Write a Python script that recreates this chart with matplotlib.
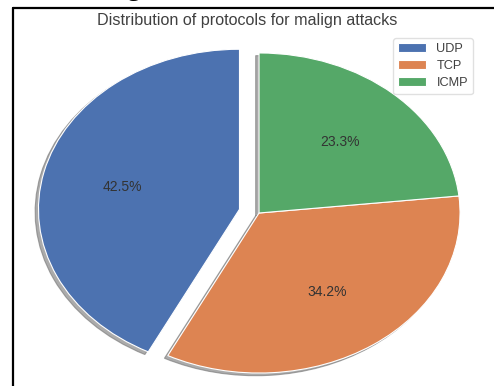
import matplotlib
matplotlib.use('Agg')
import matplotlib.pyplot as plt
from matplotlib.lines import Line2D
import seaborn as sns

protocols = ['UDP', 'TCP', 'ICMP']
shares = [42.5, 34.2, 23.3]
explode = [0.1, 0, 0]

sns.set_theme(style='darkgrid')
plt.rcParams['font.family'] = ['Liberation Sans', 'DejaVu Sans']

colors = sns.color_palette('deep')[:3]

W, H = 494, 386
fig = plt.figure(figsize=(W / 100, H / 100), dpi=100)
fig.patch.set_facecolor('white')

# axes stretched to the pie area, limits chosen so the pie sits where it should
ax = fig.add_axes([14 / W, 0, 475 / W, 378 / H])
wedges, texts, autotexts = ax.pie(
    shares, explode=explode, colors=colors, startangle=90,
    shadow={'ox': -0.012, 'oy': -0.012, 'facecolor': '0.45',
            'edgecolor': '0.45', 'alpha': 0.6},
    autopct='%1.1f%%', pctdistance=0.6,
    wedgeprops={'edgecolor': 'white', 'linewidth': 0.8},
    textprops={'fontsize': 10, 'color': '0.2'})
ax.set_aspect('auto')
ax.set_xlim(-1.219, 1.144)
ax.set_ylim(-1.081, 1.281)

fig.text(247.5 / W, 1 - 20 / H, 'Distribution of protocols for malign attacks',
         ha='center', va='center', fontsize=11.6, color='0.25')

leg = ax.legend(wedges, protocols, loc='upper right',
                bbox_to_anchor=(473 / W, 1 - 38 / H),
                bbox_transform=fig.transFigure, borderaxespad=0,
                fontsize=9.2, frameon=True, handlelength=2.2,
                labelspacing=0.4)
leg.get_frame().set_facecolor('white')
leg.get_frame().set_edgecolor('0.85')
for t in leg.get_texts():
    t.set_color('0.25')

# page frame and the tail of the caption line above
fig.add_artist(Line2D([12.5 / W, 12.5 / W], [0, 1 - 8 / H],
                      transform=fig.transFigure, color='black', lw=1.6))
fig.add_artist(Line2D([12.5 / W, 1], [1 - 8 / H, 1 - 8 / H],
                      transform=fig.transFigure, color='black', lw=1.6))
fig.text(127 / W, 1 + 5 / H, 'g', family='Liberation Serif', fontsize=20,
         va='baseline', color='black')

fig.savefig('out.png', dpi=100)
